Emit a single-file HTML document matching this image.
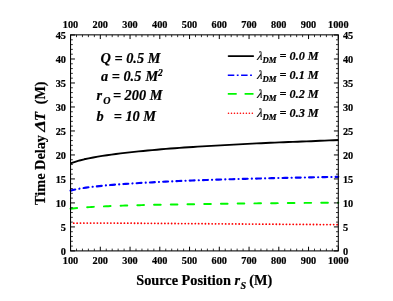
<!DOCTYPE html>
<html><head><meta charset="utf-8">
<style>
html,body{margin:0;padding:0;background:#fff;}
body{width:393px;height:301px;overflow:hidden;font-family:"Liberation Serif",serif;}
svg{display:block;will-change:transform;font-family:"Liberation Serif",serif;font-weight:bold;}
.tl text{font-size:10.3px;fill:#000;stroke:#000;stroke-width:0.2px;}
.ann text{font-size:14.3px;font-style:italic;fill:#000;stroke:#000;stroke-width:0.2px;}
.leg text{font-size:12.2px;font-style:italic;fill:#000;stroke:#000;stroke-width:0.2px;}
.ttl{font-size:14.3px;fill:#000;stroke:#000;stroke-width:0.2px;}
</style></head><body>
<svg width="393" height="301" viewBox="0 0 393 301">
<rect width="393" height="301" fill="#fff"/>
<g fill="none" stroke-linejoin="round">
<path d="M73.72,223.19 L73.78,223.19 M77.10,223.14 L77.16,223.14 M80.47,223.11 L80.53,223.11 M83.85,223.09 L83.91,223.08 M87.22,223.07 L87.28,223.07 M90.60,223.06 L90.66,223.06 M93.98,223.06 L94.04,223.06 M97.35,223.06 L97.41,223.06 M100.73,223.06 L100.79,223.06 M104.10,223.07 L104.16,223.07 M107.48,223.08 L107.54,223.08 M110.86,223.10 L110.92,223.10 M114.23,223.11 L114.29,223.11 M117.61,223.13 L117.67,223.13 M120.98,223.15 L121.04,223.15 M124.36,223.16 L124.42,223.16 M127.74,223.18 L127.80,223.18 M131.11,223.20 L131.17,223.21 M134.49,223.23 L134.55,223.23 M137.86,223.25 L137.92,223.25 M141.24,223.27 L141.30,223.27 M144.62,223.29 L144.68,223.29 M147.99,223.32 L148.05,223.32 M151.37,223.34 L151.43,223.34 M154.74,223.37 L154.80,223.37 M158.12,223.39 L158.18,223.39 M161.50,223.41 L161.56,223.41 M164.87,223.44 L164.93,223.44 M168.25,223.46 L168.31,223.46 M171.62,223.49 L171.68,223.49 M175.00,223.51 L175.06,223.51 M178.38,223.54 L178.44,223.54 M181.75,223.56 L181.81,223.56 M185.13,223.59 L185.19,223.59 M188.50,223.61 L188.56,223.61 M191.88,223.64 L191.94,223.64 M195.26,223.66 L195.32,223.67 M198.63,223.69 L198.69,223.69 M202.01,223.71 L202.07,223.72 M205.38,223.74 L205.44,223.74 M208.76,223.76 L208.82,223.77 M212.14,223.79 L212.20,223.79 M215.51,223.81 L215.57,223.82 M218.89,223.84 L218.95,223.84 M222.26,223.86 L222.32,223.86 M225.64,223.89 L225.70,223.89 M229.02,223.91 L229.08,223.91 M232.39,223.94 L232.45,223.94 M235.77,223.96 L235.83,223.96 M239.14,223.99 L239.20,223.99 M242.52,224.01 L242.58,224.01 M245.90,224.03 L245.96,224.03 M249.27,224.06 L249.33,224.06 M252.65,224.08 L252.71,224.08 M256.02,224.11 L256.08,224.11 M259.40,224.13 L259.46,224.13 M262.78,224.15 L262.84,224.15 M266.15,224.18 L266.21,224.18 M269.53,224.20 L269.59,224.20 M272.90,224.22 L272.96,224.22 M276.28,224.25 L276.34,224.25 M279.66,224.27 L279.72,224.27 M283.03,224.29 L283.09,224.29 M286.41,224.31 L286.47,224.32 M289.78,224.34 L289.84,224.34 M293.16,224.36 L293.22,224.36 M296.54,224.38 L296.60,224.38 M299.91,224.40 L299.97,224.41 M303.29,224.43 L303.35,224.43 M306.66,224.45 L306.72,224.45 M310.04,224.47 L310.10,224.47 M313.42,224.49 L313.48,224.49 M316.79,224.52 L316.85,224.52 M320.17,224.54 L320.23,224.54 M323.54,224.56 L323.60,224.56 M326.92,224.58 L326.98,224.58 M330.30,224.60 L330.36,224.60 M333.67,224.62 L333.73,224.62 M337.05,224.64 L337.11,224.64" stroke="#ff0000" stroke-width="1.8" stroke-linecap="round"/>
<path d="M70.55,208.67 L72.73,208.43 L74.92,208.21 L77.11,208.01 M87.17,207.25 L89.39,207.11 L91.61,206.98 L93.83,206.85 M103.89,206.35 L106.11,206.26 L108.33,206.17 L110.55,206.08 M120.61,205.72 L122.83,205.65 L125.05,205.58 L127.27,205.51 M137.34,205.23 L139.55,205.17 L141.77,205.12 L143.99,205.07 M154.05,204.84 L156.27,204.80 L158.49,204.75 L160.70,204.71 M170.78,204.52 L172.99,204.49 L175.21,204.45 L177.43,204.41 M187.49,204.25 L189.71,204.22 L191.93,204.19 L194.14,204.16 M204.22,204.01 L206.43,203.98 L208.65,203.95 L210.87,203.92 M220.93,203.78 L223.15,203.75 L225.37,203.72 L227.58,203.69 M237.66,203.57 L239.87,203.54 L242.09,203.52 L244.31,203.49 M254.37,203.38 L256.59,203.35 L258.81,203.33 L261.02,203.31 M271.10,203.20 L273.31,203.18 L275.53,203.16 L277.75,203.14 M287.81,203.04 L290.03,203.02 L292.25,203.00 L294.46,202.98 M304.54,202.90 L306.75,202.89 L308.97,202.87 L311.19,202.86 M321.25,202.79 L323.47,202.78 L325.69,202.77 L327.90,202.75 M337.98,202.70 L338.30,202.69" stroke="#00f800" stroke-width="1.95" stroke-linecap="round"/>
<path d="M70.55,190.59 L72.88,190.04 L75.22,189.52 M79.35,188.69 L79.45,188.67 M83.58,187.99 L86.03,187.61 L88.48,187.30 M92.62,186.79 L92.72,186.78 M96.85,186.32 L99.30,186.06 L101.75,185.81 M105.88,185.41 L105.98,185.40 M110.11,185.05 L112.56,184.85 L115.01,184.66 M119.15,184.35 L119.25,184.34 M123.38,184.05 L125.83,183.88 L128.28,183.72 M132.41,183.46 L132.51,183.45 M136.64,183.20 L139.09,183.05 L141.54,182.91 M145.68,182.68 L145.78,182.68 M149.91,182.45 L152.36,182.32 L154.81,182.19 M158.94,181.98 L159.04,181.97 M163.17,181.77 L165.62,181.65 L168.07,181.53 M172.20,181.34 L172.31,181.33 M176.44,181.15 L178.88,181.04 L181.34,180.93 M185.47,180.76 L185.57,180.75 M189.70,180.58 L192.15,180.49 L194.60,180.40 M198.74,180.26 L198.84,180.25 M202.97,180.11 L205.42,180.03 L207.87,179.95 M212.00,179.81 L212.10,179.81 M216.23,179.68 L218.68,179.61 L221.13,179.53 M225.27,179.41 L225.37,179.40 M229.50,179.28 L231.95,179.21 L234.40,179.14 M238.53,179.03 L238.63,179.03 M242.76,178.92 L245.21,178.85 L247.66,178.79 M251.79,178.68 L251.90,178.68 M256.02,178.57 L258.48,178.51 L260.93,178.45 M265.06,178.35 L265.16,178.35 M269.29,178.25 L271.74,178.19 L274.19,178.14 M278.32,178.04 L278.43,178.04 M282.56,177.95 L285.00,177.90 L287.45,177.84 M291.59,177.76 L291.69,177.75 M295.82,177.67 L298.27,177.62 L300.72,177.57 M304.85,177.48 L304.95,177.48 M309.08,177.39 L311.53,177.34 L313.98,177.29 M318.12,177.21 L318.22,177.21 M322.35,177.13 L324.80,177.08 L327.25,177.03 M331.39,176.95 L331.49,176.95 M335.62,176.87 L338.30,176.82" stroke="#0000ff" stroke-width="2.15" stroke-linecap="round"/>
<polyline points="70.5,163.42 75.1,161.82 79.6,160.46 84.2,159.30 88.7,158.33 93.2,157.45 97.8,156.63 102.3,155.90 106.9,155.21 111.4,154.57 115.9,153.97 120.5,153.40 125.0,152.86 129.5,152.35 134.1,151.86 138.6,151.39 143.2,150.95 147.7,150.52 152.2,150.10 156.8,149.70 161.3,149.30 165.9,148.92 170.4,148.56 174.9,148.20 179.5,147.86 184.0,147.54 188.5,147.24 193.1,146.95 197.6,146.66 202.2,146.39 206.7,146.12 211.2,145.86 215.8,145.60 220.3,145.36 224.8,145.11 229.4,144.88 233.9,144.62 238.5,144.37 243.0,144.12 247.5,143.88 252.1,143.64 256.6,143.40 261.2,143.18 265.7,142.98 270.2,142.79 274.8,142.60 279.3,142.42 283.8,142.23 288.4,142.06 292.9,141.88 297.5,141.71 302.0,141.54 306.5,141.38 311.1,141.22 315.6,141.02 320.1,140.81 324.7,140.61 329.2,140.41 333.8,140.22 338.3,140.02" stroke="#000" stroke-width="1.9"/>
</g>
<g stroke="#000">
<line x1="70.55" y1="250.9" x2="70.55" y2="246.70" stroke-width="1.0"/>
<line x1="70.55" y1="34.85" x2="70.55" y2="39.05" stroke-width="1.0"/>
<line x1="76.50" y1="250.9" x2="76.50" y2="248.60" stroke-width="0.8"/>
<line x1="76.50" y1="34.85" x2="76.50" y2="37.15" stroke-width="0.8"/>
<line x1="82.45" y1="250.9" x2="82.45" y2="248.60" stroke-width="0.8"/>
<line x1="82.45" y1="34.85" x2="82.45" y2="37.15" stroke-width="0.8"/>
<line x1="88.40" y1="250.9" x2="88.40" y2="248.60" stroke-width="0.8"/>
<line x1="88.40" y1="34.85" x2="88.40" y2="37.15" stroke-width="0.8"/>
<line x1="94.35" y1="250.9" x2="94.35" y2="248.60" stroke-width="0.8"/>
<line x1="94.35" y1="34.85" x2="94.35" y2="37.15" stroke-width="0.8"/>
<line x1="100.30" y1="250.9" x2="100.30" y2="246.70" stroke-width="1.0"/>
<line x1="100.30" y1="34.85" x2="100.30" y2="39.05" stroke-width="1.0"/>
<line x1="106.25" y1="250.9" x2="106.25" y2="248.60" stroke-width="0.8"/>
<line x1="106.25" y1="34.85" x2="106.25" y2="37.15" stroke-width="0.8"/>
<line x1="112.20" y1="250.9" x2="112.20" y2="248.60" stroke-width="0.8"/>
<line x1="112.20" y1="34.85" x2="112.20" y2="37.15" stroke-width="0.8"/>
<line x1="118.15" y1="250.9" x2="118.15" y2="248.60" stroke-width="0.8"/>
<line x1="118.15" y1="34.85" x2="118.15" y2="37.15" stroke-width="0.8"/>
<line x1="124.10" y1="250.9" x2="124.10" y2="248.60" stroke-width="0.8"/>
<line x1="124.10" y1="34.85" x2="124.10" y2="37.15" stroke-width="0.8"/>
<line x1="130.05" y1="250.9" x2="130.05" y2="246.70" stroke-width="1.0"/>
<line x1="130.05" y1="34.85" x2="130.05" y2="39.05" stroke-width="1.0"/>
<line x1="136.00" y1="250.9" x2="136.00" y2="248.60" stroke-width="0.8"/>
<line x1="136.00" y1="34.85" x2="136.00" y2="37.15" stroke-width="0.8"/>
<line x1="141.95" y1="250.9" x2="141.95" y2="248.60" stroke-width="0.8"/>
<line x1="141.95" y1="34.85" x2="141.95" y2="37.15" stroke-width="0.8"/>
<line x1="147.90" y1="250.9" x2="147.90" y2="248.60" stroke-width="0.8"/>
<line x1="147.90" y1="34.85" x2="147.90" y2="37.15" stroke-width="0.8"/>
<line x1="153.85" y1="250.9" x2="153.85" y2="248.60" stroke-width="0.8"/>
<line x1="153.85" y1="34.85" x2="153.85" y2="37.15" stroke-width="0.8"/>
<line x1="159.80" y1="250.9" x2="159.80" y2="246.70" stroke-width="1.0"/>
<line x1="159.80" y1="34.85" x2="159.80" y2="39.05" stroke-width="1.0"/>
<line x1="165.75" y1="250.9" x2="165.75" y2="248.60" stroke-width="0.8"/>
<line x1="165.75" y1="34.85" x2="165.75" y2="37.15" stroke-width="0.8"/>
<line x1="171.70" y1="250.9" x2="171.70" y2="248.60" stroke-width="0.8"/>
<line x1="171.70" y1="34.85" x2="171.70" y2="37.15" stroke-width="0.8"/>
<line x1="177.65" y1="250.9" x2="177.65" y2="248.60" stroke-width="0.8"/>
<line x1="177.65" y1="34.85" x2="177.65" y2="37.15" stroke-width="0.8"/>
<line x1="183.60" y1="250.9" x2="183.60" y2="248.60" stroke-width="0.8"/>
<line x1="183.60" y1="34.85" x2="183.60" y2="37.15" stroke-width="0.8"/>
<line x1="189.55" y1="250.9" x2="189.55" y2="246.70" stroke-width="1.0"/>
<line x1="189.55" y1="34.85" x2="189.55" y2="39.05" stroke-width="1.0"/>
<line x1="195.50" y1="250.9" x2="195.50" y2="248.60" stroke-width="0.8"/>
<line x1="195.50" y1="34.85" x2="195.50" y2="37.15" stroke-width="0.8"/>
<line x1="201.45" y1="250.9" x2="201.45" y2="248.60" stroke-width="0.8"/>
<line x1="201.45" y1="34.85" x2="201.45" y2="37.15" stroke-width="0.8"/>
<line x1="207.40" y1="250.9" x2="207.40" y2="248.60" stroke-width="0.8"/>
<line x1="207.40" y1="34.85" x2="207.40" y2="37.15" stroke-width="0.8"/>
<line x1="213.35" y1="250.9" x2="213.35" y2="248.60" stroke-width="0.8"/>
<line x1="213.35" y1="34.85" x2="213.35" y2="37.15" stroke-width="0.8"/>
<line x1="219.30" y1="250.9" x2="219.30" y2="246.70" stroke-width="1.0"/>
<line x1="219.30" y1="34.85" x2="219.30" y2="39.05" stroke-width="1.0"/>
<line x1="225.25" y1="250.9" x2="225.25" y2="248.60" stroke-width="0.8"/>
<line x1="225.25" y1="34.85" x2="225.25" y2="37.15" stroke-width="0.8"/>
<line x1="231.20" y1="250.9" x2="231.20" y2="248.60" stroke-width="0.8"/>
<line x1="231.20" y1="34.85" x2="231.20" y2="37.15" stroke-width="0.8"/>
<line x1="237.15" y1="250.9" x2="237.15" y2="248.60" stroke-width="0.8"/>
<line x1="237.15" y1="34.85" x2="237.15" y2="37.15" stroke-width="0.8"/>
<line x1="243.10" y1="250.9" x2="243.10" y2="248.60" stroke-width="0.8"/>
<line x1="243.10" y1="34.85" x2="243.10" y2="37.15" stroke-width="0.8"/>
<line x1="249.05" y1="250.9" x2="249.05" y2="246.70" stroke-width="1.0"/>
<line x1="249.05" y1="34.85" x2="249.05" y2="39.05" stroke-width="1.0"/>
<line x1="255.00" y1="250.9" x2="255.00" y2="248.60" stroke-width="0.8"/>
<line x1="255.00" y1="34.85" x2="255.00" y2="37.15" stroke-width="0.8"/>
<line x1="260.95" y1="250.9" x2="260.95" y2="248.60" stroke-width="0.8"/>
<line x1="260.95" y1="34.85" x2="260.95" y2="37.15" stroke-width="0.8"/>
<line x1="266.90" y1="250.9" x2="266.90" y2="248.60" stroke-width="0.8"/>
<line x1="266.90" y1="34.85" x2="266.90" y2="37.15" stroke-width="0.8"/>
<line x1="272.85" y1="250.9" x2="272.85" y2="248.60" stroke-width="0.8"/>
<line x1="272.85" y1="34.85" x2="272.85" y2="37.15" stroke-width="0.8"/>
<line x1="278.80" y1="250.9" x2="278.80" y2="246.70" stroke-width="1.0"/>
<line x1="278.80" y1="34.85" x2="278.80" y2="39.05" stroke-width="1.0"/>
<line x1="284.75" y1="250.9" x2="284.75" y2="248.60" stroke-width="0.8"/>
<line x1="284.75" y1="34.85" x2="284.75" y2="37.15" stroke-width="0.8"/>
<line x1="290.70" y1="250.9" x2="290.70" y2="248.60" stroke-width="0.8"/>
<line x1="290.70" y1="34.85" x2="290.70" y2="37.15" stroke-width="0.8"/>
<line x1="296.65" y1="250.9" x2="296.65" y2="248.60" stroke-width="0.8"/>
<line x1="296.65" y1="34.85" x2="296.65" y2="37.15" stroke-width="0.8"/>
<line x1="302.60" y1="250.9" x2="302.60" y2="248.60" stroke-width="0.8"/>
<line x1="302.60" y1="34.85" x2="302.60" y2="37.15" stroke-width="0.8"/>
<line x1="308.55" y1="250.9" x2="308.55" y2="246.70" stroke-width="1.0"/>
<line x1="308.55" y1="34.85" x2="308.55" y2="39.05" stroke-width="1.0"/>
<line x1="314.50" y1="250.9" x2="314.50" y2="248.60" stroke-width="0.8"/>
<line x1="314.50" y1="34.85" x2="314.50" y2="37.15" stroke-width="0.8"/>
<line x1="320.45" y1="250.9" x2="320.45" y2="248.60" stroke-width="0.8"/>
<line x1="320.45" y1="34.85" x2="320.45" y2="37.15" stroke-width="0.8"/>
<line x1="326.40" y1="250.9" x2="326.40" y2="248.60" stroke-width="0.8"/>
<line x1="326.40" y1="34.85" x2="326.40" y2="37.15" stroke-width="0.8"/>
<line x1="332.35" y1="250.9" x2="332.35" y2="248.60" stroke-width="0.8"/>
<line x1="332.35" y1="34.85" x2="332.35" y2="37.15" stroke-width="0.8"/>
<line x1="338.30" y1="250.9" x2="338.30" y2="246.70" stroke-width="1.0"/>
<line x1="338.30" y1="34.85" x2="338.30" y2="39.05" stroke-width="1.0"/>
<line x1="70.55" y1="250.90" x2="74.95" y2="250.90" stroke-width="1.0"/>
<line x1="338.3" y1="250.90" x2="333.90" y2="250.90" stroke-width="1.0"/>
<line x1="70.55" y1="246.10" x2="72.85" y2="246.10" stroke-width="0.8"/>
<line x1="338.3" y1="246.10" x2="336.00" y2="246.10" stroke-width="0.8"/>
<line x1="70.55" y1="241.30" x2="72.85" y2="241.30" stroke-width="0.8"/>
<line x1="338.3" y1="241.30" x2="336.00" y2="241.30" stroke-width="0.8"/>
<line x1="70.55" y1="236.51" x2="72.85" y2="236.51" stroke-width="0.8"/>
<line x1="338.3" y1="236.51" x2="336.00" y2="236.51" stroke-width="0.8"/>
<line x1="70.55" y1="231.71" x2="72.85" y2="231.71" stroke-width="0.8"/>
<line x1="338.3" y1="231.71" x2="336.00" y2="231.71" stroke-width="0.8"/>
<line x1="70.55" y1="226.91" x2="74.95" y2="226.91" stroke-width="1.0"/>
<line x1="338.3" y1="226.91" x2="333.90" y2="226.91" stroke-width="1.0"/>
<line x1="70.55" y1="222.11" x2="72.85" y2="222.11" stroke-width="0.8"/>
<line x1="338.3" y1="222.11" x2="336.00" y2="222.11" stroke-width="0.8"/>
<line x1="70.55" y1="217.32" x2="72.85" y2="217.32" stroke-width="0.8"/>
<line x1="338.3" y1="217.32" x2="336.00" y2="217.32" stroke-width="0.8"/>
<line x1="70.55" y1="212.52" x2="72.85" y2="212.52" stroke-width="0.8"/>
<line x1="338.3" y1="212.52" x2="336.00" y2="212.52" stroke-width="0.8"/>
<line x1="70.55" y1="207.72" x2="72.85" y2="207.72" stroke-width="0.8"/>
<line x1="338.3" y1="207.72" x2="336.00" y2="207.72" stroke-width="0.8"/>
<line x1="70.55" y1="202.92" x2="74.95" y2="202.92" stroke-width="1.0"/>
<line x1="338.3" y1="202.92" x2="333.90" y2="202.92" stroke-width="1.0"/>
<line x1="70.55" y1="198.12" x2="72.85" y2="198.12" stroke-width="0.8"/>
<line x1="338.3" y1="198.12" x2="336.00" y2="198.12" stroke-width="0.8"/>
<line x1="70.55" y1="193.33" x2="72.85" y2="193.33" stroke-width="0.8"/>
<line x1="338.3" y1="193.33" x2="336.00" y2="193.33" stroke-width="0.8"/>
<line x1="70.55" y1="188.53" x2="72.85" y2="188.53" stroke-width="0.8"/>
<line x1="338.3" y1="188.53" x2="336.00" y2="188.53" stroke-width="0.8"/>
<line x1="70.55" y1="183.73" x2="72.85" y2="183.73" stroke-width="0.8"/>
<line x1="338.3" y1="183.73" x2="336.00" y2="183.73" stroke-width="0.8"/>
<line x1="70.55" y1="178.93" x2="74.95" y2="178.93" stroke-width="1.0"/>
<line x1="338.3" y1="178.93" x2="333.90" y2="178.93" stroke-width="1.0"/>
<line x1="70.55" y1="174.14" x2="72.85" y2="174.14" stroke-width="0.8"/>
<line x1="338.3" y1="174.14" x2="336.00" y2="174.14" stroke-width="0.8"/>
<line x1="70.55" y1="169.34" x2="72.85" y2="169.34" stroke-width="0.8"/>
<line x1="338.3" y1="169.34" x2="336.00" y2="169.34" stroke-width="0.8"/>
<line x1="70.55" y1="164.54" x2="72.85" y2="164.54" stroke-width="0.8"/>
<line x1="338.3" y1="164.54" x2="336.00" y2="164.54" stroke-width="0.8"/>
<line x1="70.55" y1="159.74" x2="72.85" y2="159.74" stroke-width="0.8"/>
<line x1="338.3" y1="159.74" x2="336.00" y2="159.74" stroke-width="0.8"/>
<line x1="70.55" y1="154.94" x2="74.95" y2="154.94" stroke-width="1.0"/>
<line x1="338.3" y1="154.94" x2="333.90" y2="154.94" stroke-width="1.0"/>
<line x1="70.55" y1="150.15" x2="72.85" y2="150.15" stroke-width="0.8"/>
<line x1="338.3" y1="150.15" x2="336.00" y2="150.15" stroke-width="0.8"/>
<line x1="70.55" y1="145.35" x2="72.85" y2="145.35" stroke-width="0.8"/>
<line x1="338.3" y1="145.35" x2="336.00" y2="145.35" stroke-width="0.8"/>
<line x1="70.55" y1="140.55" x2="72.85" y2="140.55" stroke-width="0.8"/>
<line x1="338.3" y1="140.55" x2="336.00" y2="140.55" stroke-width="0.8"/>
<line x1="70.55" y1="135.75" x2="72.85" y2="135.75" stroke-width="0.8"/>
<line x1="338.3" y1="135.75" x2="336.00" y2="135.75" stroke-width="0.8"/>
<line x1="70.55" y1="130.96" x2="74.95" y2="130.96" stroke-width="1.0"/>
<line x1="338.3" y1="130.96" x2="333.90" y2="130.96" stroke-width="1.0"/>
<line x1="70.55" y1="126.16" x2="72.85" y2="126.16" stroke-width="0.8"/>
<line x1="338.3" y1="126.16" x2="336.00" y2="126.16" stroke-width="0.8"/>
<line x1="70.55" y1="121.36" x2="72.85" y2="121.36" stroke-width="0.8"/>
<line x1="338.3" y1="121.36" x2="336.00" y2="121.36" stroke-width="0.8"/>
<line x1="70.55" y1="116.56" x2="72.85" y2="116.56" stroke-width="0.8"/>
<line x1="338.3" y1="116.56" x2="336.00" y2="116.56" stroke-width="0.8"/>
<line x1="70.55" y1="111.76" x2="72.85" y2="111.76" stroke-width="0.8"/>
<line x1="338.3" y1="111.76" x2="336.00" y2="111.76" stroke-width="0.8"/>
<line x1="70.55" y1="106.97" x2="74.95" y2="106.97" stroke-width="1.0"/>
<line x1="338.3" y1="106.97" x2="333.90" y2="106.97" stroke-width="1.0"/>
<line x1="70.55" y1="102.17" x2="72.85" y2="102.17" stroke-width="0.8"/>
<line x1="338.3" y1="102.17" x2="336.00" y2="102.17" stroke-width="0.8"/>
<line x1="70.55" y1="97.37" x2="72.85" y2="97.37" stroke-width="0.8"/>
<line x1="338.3" y1="97.37" x2="336.00" y2="97.37" stroke-width="0.8"/>
<line x1="70.55" y1="92.57" x2="72.85" y2="92.57" stroke-width="0.8"/>
<line x1="338.3" y1="92.57" x2="336.00" y2="92.57" stroke-width="0.8"/>
<line x1="70.55" y1="87.78" x2="72.85" y2="87.78" stroke-width="0.8"/>
<line x1="338.3" y1="87.78" x2="336.00" y2="87.78" stroke-width="0.8"/>
<line x1="70.55" y1="82.98" x2="74.95" y2="82.98" stroke-width="1.0"/>
<line x1="338.3" y1="82.98" x2="333.90" y2="82.98" stroke-width="1.0"/>
<line x1="70.55" y1="78.18" x2="72.85" y2="78.18" stroke-width="0.8"/>
<line x1="338.3" y1="78.18" x2="336.00" y2="78.18" stroke-width="0.8"/>
<line x1="70.55" y1="73.38" x2="72.85" y2="73.38" stroke-width="0.8"/>
<line x1="338.3" y1="73.38" x2="336.00" y2="73.38" stroke-width="0.8"/>
<line x1="70.55" y1="68.58" x2="72.85" y2="68.58" stroke-width="0.8"/>
<line x1="338.3" y1="68.58" x2="336.00" y2="68.58" stroke-width="0.8"/>
<line x1="70.55" y1="63.79" x2="72.85" y2="63.79" stroke-width="0.8"/>
<line x1="338.3" y1="63.79" x2="336.00" y2="63.79" stroke-width="0.8"/>
<line x1="70.55" y1="58.99" x2="74.95" y2="58.99" stroke-width="1.0"/>
<line x1="338.3" y1="58.99" x2="333.90" y2="58.99" stroke-width="1.0"/>
<line x1="70.55" y1="54.19" x2="72.85" y2="54.19" stroke-width="0.8"/>
<line x1="338.3" y1="54.19" x2="336.00" y2="54.19" stroke-width="0.8"/>
<line x1="70.55" y1="49.39" x2="72.85" y2="49.39" stroke-width="0.8"/>
<line x1="338.3" y1="49.39" x2="336.00" y2="49.39" stroke-width="0.8"/>
<line x1="70.55" y1="44.60" x2="72.85" y2="44.60" stroke-width="0.8"/>
<line x1="338.3" y1="44.60" x2="336.00" y2="44.60" stroke-width="0.8"/>
<line x1="70.55" y1="39.80" x2="72.85" y2="39.80" stroke-width="0.8"/>
<line x1="338.3" y1="39.80" x2="336.00" y2="39.80" stroke-width="0.8"/>
<line x1="70.55" y1="35.00" x2="74.95" y2="35.00" stroke-width="1.0"/>
<line x1="338.3" y1="35.00" x2="333.90" y2="35.00" stroke-width="1.0"/>
</g>
<rect x="70.55" y="34.85" width="267.75" height="216.05" fill="none" stroke="#000" stroke-width="1.05"/>
<g class="tl">
<text x="70.55" y="264.3" text-anchor="middle">100</text>
<text x="70.55" y="28.2" text-anchor="middle">100</text>
<text x="100.30" y="264.3" text-anchor="middle">200</text>
<text x="100.30" y="28.2" text-anchor="middle">200</text>
<text x="130.05" y="264.3" text-anchor="middle">300</text>
<text x="130.05" y="28.2" text-anchor="middle">300</text>
<text x="159.80" y="264.3" text-anchor="middle">400</text>
<text x="159.80" y="28.2" text-anchor="middle">400</text>
<text x="189.55" y="264.3" text-anchor="middle">500</text>
<text x="189.55" y="28.2" text-anchor="middle">500</text>
<text x="219.30" y="264.3" text-anchor="middle">600</text>
<text x="219.30" y="28.2" text-anchor="middle">600</text>
<text x="249.05" y="264.3" text-anchor="middle">700</text>
<text x="249.05" y="28.2" text-anchor="middle">700</text>
<text x="278.80" y="264.3" text-anchor="middle">800</text>
<text x="278.80" y="28.2" text-anchor="middle">800</text>
<text x="308.55" y="264.3" text-anchor="middle">900</text>
<text x="308.55" y="28.2" text-anchor="middle">900</text>
<text x="338.30" y="264.3" text-anchor="middle">1000</text>
<text x="338.30" y="28.2" text-anchor="middle">1000</text>
<text x="66.0" y="254.60" text-anchor="end">0</text>
<text x="342.9" y="254.60" text-anchor="start">0</text>
<text x="66.0" y="230.61" text-anchor="end">5</text>
<text x="342.9" y="230.61" text-anchor="start">5</text>
<text x="66.0" y="206.62" text-anchor="end">10</text>
<text x="342.9" y="206.62" text-anchor="start">10</text>
<text x="66.0" y="182.63" text-anchor="end">15</text>
<text x="342.9" y="182.63" text-anchor="start">15</text>
<text x="66.0" y="158.64" text-anchor="end">20</text>
<text x="342.9" y="158.64" text-anchor="start">20</text>
<text x="66.0" y="134.66" text-anchor="end">25</text>
<text x="342.9" y="134.66" text-anchor="start">25</text>
<text x="66.0" y="110.67" text-anchor="end">30</text>
<text x="342.9" y="110.67" text-anchor="start">30</text>
<text x="66.0" y="86.68" text-anchor="end">35</text>
<text x="342.9" y="86.68" text-anchor="start">35</text>
<text x="66.0" y="62.69" text-anchor="end">40</text>
<text x="342.9" y="62.69" text-anchor="start">40</text>
<text x="66.0" y="38.70" text-anchor="end">45</text>
<text x="342.9" y="38.70" text-anchor="start">45</text>
</g>
<g class="ann">
<text x="100.6" y="63.0">Q = 0.5 M</text>
<text x="101.0" y="80.8">a = 0.5</text><text x="145.4" y="80.8">M<tspan font-size="9.6" dy="-4.6">2</tspan></text>
<text x="96.5" y="100.2">r<tspan font-size="10" dx="1.2" dy="3.5">O</tspan><tspan dx="-1.2" dy="-3.5"> = 200 M</tspan></text>
<text x="96.5" y="121.2">b</text><text x="113.7" y="121.2">= 10 M</text>
</g>
<g class="leg">
<line x1="228.6" y1="56.05" x2="253.2" y2="56.05" stroke="#000" stroke-width="1.8" stroke-linecap="round"/>
<line x1="227.8" y1="75.3" x2="252" y2="75.3" stroke="#0000ff" stroke-width="1.6" stroke-dasharray="6.5 2.5 1.8 2.5"/>
<line x1="227.8" y1="93.9" x2="253.5" y2="93.9" stroke="#00f800" stroke-width="1.6" stroke-dasharray="8.9 7.9"/>
<line x1="228.5" y1="113.3" x2="252.6" y2="113.3" stroke="#ff0000" stroke-width="1.6" stroke-linecap="round" stroke-dasharray="0.01 2.97"/>
<text transform="translate(257.0,59.7) skewX(-8)" font-weight="normal" font-size="11.5" stroke="#000" stroke-width="0.35">λ</text><text x="262.5" y="62.9"><tspan font-size="8.7">DM</tspan><tspan dy="-2.9"> = 0.0 M</tspan></text>
<text transform="translate(257.0,78.6) skewX(-8)" font-weight="normal" font-size="11.5" stroke="#000" stroke-width="0.35">λ</text><text x="262.5" y="81.8"><tspan font-size="8.7">DM</tspan><tspan dy="-2.9"> = 0.1 M</tspan></text>
<text transform="translate(257.0,97.7) skewX(-8)" font-weight="normal" font-size="11.5" stroke="#000" stroke-width="0.35">λ</text><text x="262.5" y="100.9"><tspan font-size="8.7">DM</tspan><tspan dy="-2.9"> = 0.2 M</tspan></text>
<text transform="translate(257.0,116.6) skewX(-8)" font-weight="normal" font-size="11.5" stroke="#000" stroke-width="0.35">λ</text><text x="262.5" y="119.8"><tspan font-size="8.7">DM</tspan><tspan dy="-2.9"> = 0.3 M</tspan></text>
</g>
<text class="ttl" x="136.2" y="284.6">Source Position <tspan font-style="italic">r</tspan><tspan font-style="italic" font-size="10" dx="0.5" dy="4.4">S</tspan><tspan dx="-0.5" dy="-4.4"> (M)</tspan></text>
<g class="ttl" transform="translate(44.9,205) rotate(-90)">
<text x="0" y="0" textLength="70.0" lengthAdjust="spacingAndGlyphs">Time Delay</text>
<text x="73.2" y="0" font-style="italic" textLength="11.6" lengthAdjust="spacingAndGlyphs">Δ</text>
<text x="83.9" y="0" font-style="italic" textLength="9.0" lengthAdjust="spacingAndGlyphs">T</text>
<text x="100.8" y="0" textLength="22.6" lengthAdjust="spacingAndGlyphs">(M)</text>
</g>
</svg>
</body></html>
